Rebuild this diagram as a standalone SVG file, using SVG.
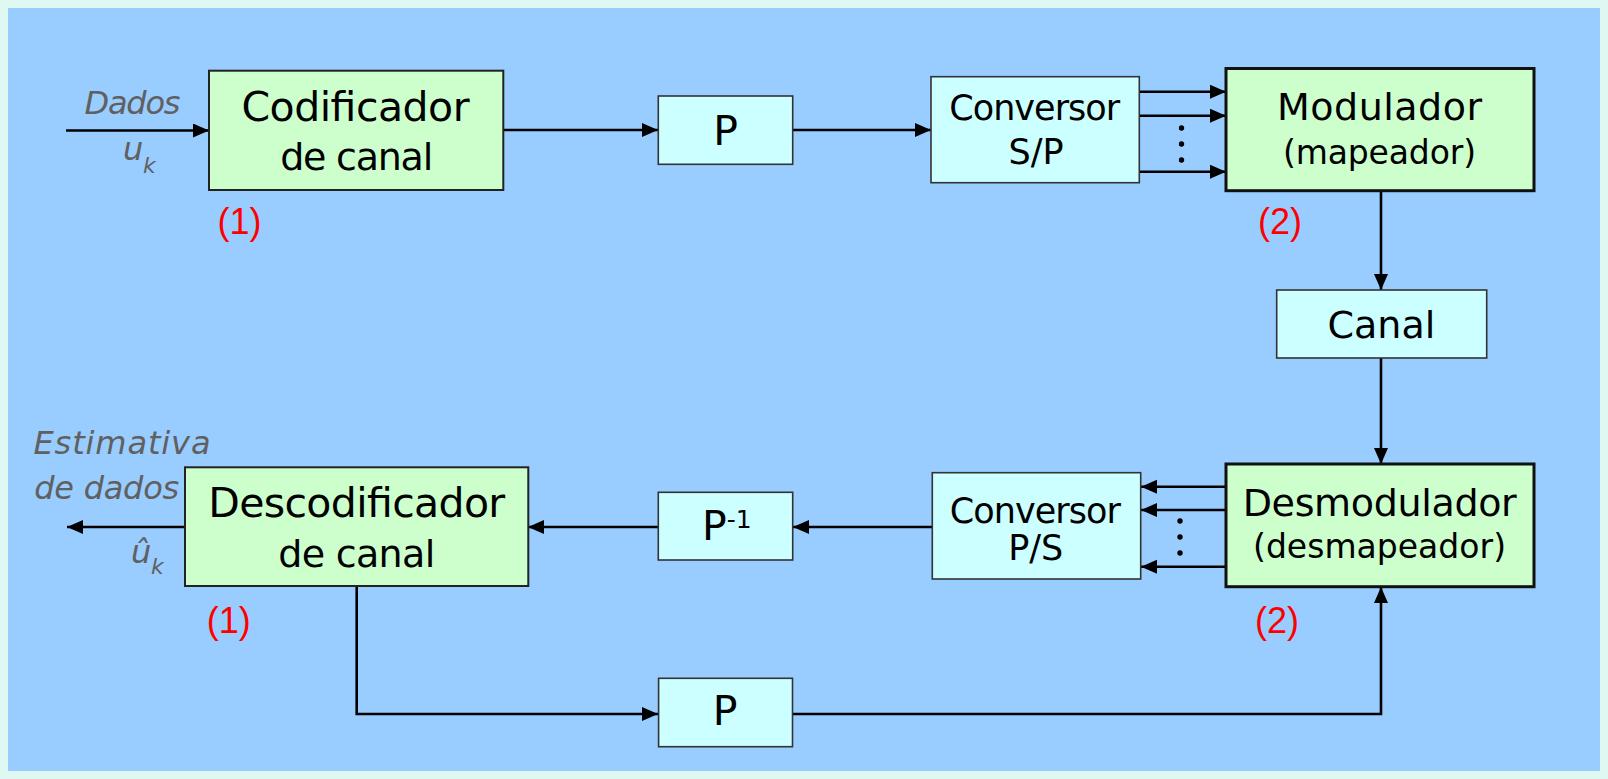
<svg xmlns="http://www.w3.org/2000/svg" width="1608" height="779" viewBox="0 0 1608 779">
  <defs>
    <marker id="arrow" markerUnits="userSpaceOnUse" markerWidth="17" markerHeight="15" refX="16" refY="7" orient="auto">
      <path d="M0,0 L16,7 L0,14 Z" fill="#000"/>
    </marker>
    <style>
      .blk-green { fill: #ccffcc; stroke: #222; stroke-width: 2; }
      .blk-green-bold { fill: #ccffcc; stroke: #111; stroke-width: 3; }
      .blk-cyan { fill: #ccffff; stroke: #333; stroke-width: 1.6; }
      .lbl { font-family: "DejaVu Sans", "Noto Sans", sans-serif; font-size: 38px; fill: #000; text-anchor: middle; }
      .lbl-big { font-family: "DejaVu Sans", "Noto Sans", sans-serif; font-size: 41px; fill: #000; text-anchor: middle; }
      .lbl-sm { font-family: "DejaVu Sans", "Noto Sans", sans-serif; font-size: 33px; fill: #000; text-anchor: middle; }
      .lbl-conv { font-family: "DejaVu Sans", "Noto Sans", sans-serif; font-size: 35px; fill: #000; text-anchor: middle; }
      .sig { font-family: "DejaVu Sans", "Noto Sans", sans-serif; font-style: italic; font-size: 32px; fill: #606060; }
      .sub { font-size: 22px; }
      .tag { font-family: "Liberation Sans", Arial, sans-serif; font-size: 36px; fill: #ff0000; text-anchor: middle; }
      .wire { fill: none; stroke: #000; stroke-width: 2.6; }
      .dot { fill: #000; }
    </style>
  </defs>

  <!-- frame and background -->
  <rect x="0" y="0" width="1608" height="779" fill="#e0f8f2"/>
  <rect x="8" y="8" width="1592" height="763" fill="#99ccff"/>

  <!-- connectors -->
  <g id="connectors">
    <path class="wire" d="M66,130.5 H209" marker-end="url(#arrow)"/>
    <path class="wire" d="M503,130 H658" marker-end="url(#arrow)"/>
    <path class="wire" d="M793,130 H931" marker-end="url(#arrow)"/>
    <path class="wire" d="M1139.5,91.7 H1226" marker-end="url(#arrow)"/>
    <path class="wire" d="M1139.5,115.7 H1226" marker-end="url(#arrow)"/>
    <path class="wire" d="M1139.5,171.7 H1226" marker-end="url(#arrow)"/>
    <circle class="dot" cx="1181.5" cy="128" r="2.7"/>
    <circle class="dot" cx="1181.5" cy="144" r="2.7"/>
    <circle class="dot" cx="1181.5" cy="160" r="2.7"/>
    <path class="wire" d="M1381,191 V290" marker-end="url(#arrow)"/>
    <path class="wire" d="M1381,358 V464" marker-end="url(#arrow)"/>
    <path class="wire" d="M1226,486.7 H1141" marker-end="url(#arrow)"/>
    <path class="wire" d="M1226,510 H1141" marker-end="url(#arrow)"/>
    <path class="wire" d="M1226,566.7 H1141" marker-end="url(#arrow)"/>
    <circle class="dot" cx="1180" cy="521" r="2.7"/>
    <circle class="dot" cx="1180" cy="537" r="2.7"/>
    <circle class="dot" cx="1180" cy="553" r="2.7"/>
    <path class="wire" d="M932,527 H793" marker-end="url(#arrow)"/>
    <path class="wire" d="M658,527 H528" marker-end="url(#arrow)"/>
    <path class="wire" d="M185,527 H67" marker-end="url(#arrow)"/>
    <path class="wire" d="M356.7,586 V714 H658" marker-end="url(#arrow)"/>
    <path class="wire" d="M792.5,714 H1381 V587" marker-end="url(#arrow)"/>
  </g>

  <!-- input / output signal labels -->
  <g id="signal-in">
    <text class="sig" x="132.5" y="114" text-anchor="middle" textLength="96">Dados</text>
    <text class="sig" x="123" y="160">u<tspan class="sub" x="143" y="172.7">k</tspan></text>
  </g>
  <g id="signal-out">
    <text class="sig" x="122" y="454.3" text-anchor="middle" textLength="177">Estimativa</text>
    <text class="sig" x="106.7" y="499.3" text-anchor="middle" textLength="145">de dados</text>
    <text class="sig" x="131" y="563.3">û<tspan class="sub" x="151" y="574">k</tspan></text>
  </g>

  <!-- transmitter chain -->
  <g id="codificador">
    <rect class="blk-green" x="209" y="70.7" width="294.3" height="119.3"/>
    <text class="lbl-big" x="355.5" y="120.7" textLength="228">Codificador</text>
    <text class="lbl" x="356.7" y="170" textLength="153">de canal</text>
  </g>
  <g id="entrelacador">
    <rect class="blk-cyan" x="658.3" y="96" width="134.4" height="68.3"/>
    <text class="lbl-big" x="725.5" y="145">P</text>
  </g>
  <g id="conversor-sp">
    <rect class="blk-cyan" x="931" y="76.7" width="208.3" height="106"/>
    <text class="lbl-conv" x="1034.7" y="120" textLength="171">Conversor</text>
    <text class="lbl-conv" x="1036" y="164">S/P</text>
  </g>
  <g id="modulador">
    <rect class="blk-green-bold" x="1226" y="68.5" width="308" height="122.2"/>
    <text class="lbl" x="1379.5" y="120" textLength="205">Modulador</text>
    <text class="lbl-sm" x="1379.5" y="163.5" textLength="193">(mapeador)</text>
  </g>
  <g id="tag-1-tx"><text class="tag" x="239.5" y="234">(1)</text></g>
  <g id="tag-2-tx"><text class="tag" x="1280" y="234">(2)</text></g>

  <!-- channel -->
  <g id="canal">
    <rect class="blk-cyan" x="1276.7" y="290" width="210" height="68"/>
    <text class="lbl" x="1381.4" y="338.3">Canal</text>
  </g>

  <!-- receiver chain -->
  <g id="desmodulador">
    <rect class="blk-green-bold" x="1226" y="464" width="308" height="122.7"/>
    <text class="lbl" x="1379.7" y="516" textLength="274">Desmodulador</text>
    <text class="lbl-sm" x="1379.5" y="558.3" textLength="253">(desmapeador)</text>
  </g>
  <g id="conversor-ps">
    <rect class="blk-cyan" x="932.3" y="472.7" width="208.4" height="106.3"/>
    <text class="lbl-conv" x="1035.3" y="523.3" textLength="171">Conversor</text>
    <text class="lbl-conv" x="1035.7" y="560">P/S</text>
  </g>
  <g id="desentrelacador">
    <rect class="blk-cyan" x="658.3" y="492.3" width="134.4" height="67.7"/>
    <text class="lbl-big" x="702" y="540" style="text-anchor:start">P<tspan font-size="25" dy="-12">-1</tspan></text>
  </g>
  <g id="descodificador">
    <rect class="blk-green" x="185" y="467.3" width="343.3" height="118.7"/>
    <text class="lbl-big" x="356.7" y="516.7" textLength="297">Descodificador</text>
    <text class="lbl" x="356.7" y="566.7" textLength="157">de canal</text>
  </g>
  <g id="entrelacador-realim">
    <rect class="blk-cyan" x="658.6" y="678.3" width="133.9" height="68.4"/>
    <text class="lbl-big" x="725" y="725">P</text>
  </g>
  <g id="tag-1-rx"><text class="tag" x="228.8" y="633">(1)</text></g>
  <g id="tag-2-rx"><text class="tag" x="1277" y="633">(2)</text></g>
</svg>
